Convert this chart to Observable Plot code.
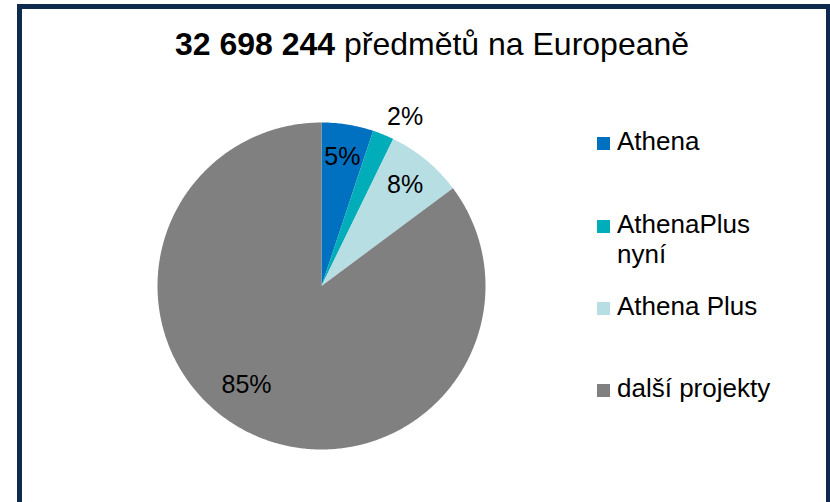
<!DOCTYPE html>
<html>
<head>
<meta charset="utf-8">
<script src="https://cdn.jsdelivr.net/npm/d3@7"></script>
<script src="https://cdn.jsdelivr.net/npm/@observablehq/plot@0.6"></script>
<style>
  html, body { margin: 0; padding: 0; background: #fff; overflow: hidden; }
  body { width: 830px; height: 502px; position: relative; font-family: "Liberation Sans", Arial, sans-serif; }
  #frame { position: absolute; left: 17px; top: 4px; width: 814px; height: 520px; box-sizing: border-box;
           border: 5px solid #0E2A4C; background: #fff; }
  #title { position: absolute; left: 432px; top: 28px; transform: translateX(-50%); white-space: nowrap;
           font-size: 32px; line-height: 32px; color: #000; }
  #chart { position: absolute; left: 0; top: 0; }
  .leg { position: absolute; left: 617px; font-size: 26px; line-height: 30px; color: #000; }
  .sw { position: absolute; left: -20px; top: 11px; width: 13px; height: 13px; }
</style>
</head>
<body>
<div id="frame"></div>
<div id="title"><b>32 698 244</b> předmětů na Europeaně</div>
<div id="chart"></div>
<script>
// ---- data ----
const categories = ["Athena", "AthenaPlus nyní", "Athena Plus", "další projekty"];
const shares = [5.1, 2.1, 7.6, 85.2];            // percent of the total
const colors = ["#0070C0", "#00ADB8", "#B7DEE3", "#808080"];
const legendLines = [["Athena"], ["AthenaPlus", "nyní"], ["Athena Plus"], ["další projekty"]];

// ---- build slices ----
const total = d3.sum(shares);
const pie = d3.pie().sort(null).value(d => d)(shares);
const slicePts = [];
pie.forEach((p, i) => {
  const name = categories[i];
  slicePts.push({name, x: 0, y: 0});
  const n = Math.max(2, Math.ceil((p.endAngle - p.startAngle) / 0.01));
  for (let k = 0; k <= n; k++) {
    const a = p.startAngle + (p.endAngle - p.startAngle) * k / n;
    slicePts.push({name, x: Math.sin(a), y: Math.cos(a)});
  }
  slicePts.push({name, x: 0, y: 0});
});
const labels = pie.map((p, i) => {
  const share = shares[i] / total;
  const outside = share < 0.03;
  const big = share > 0.5;
  // large slice label sits a bit further round (best-fit placement)
  const a = (p.startAngle + p.endAngle) / 2 + (big ? 0.18 : 0);
  const r = outside ? 1.06 : (big ? 0.76 : 0.8);
  return {
    text: d3.format(".0%")(share),
    x: r * Math.sin(a), y: r * Math.cos(a), outside
  };
});

const chart = Plot.plot({
  width: 830, height: 502,
  marginLeft: 157, marginRight: 345, marginTop: 122, marginBottom: 53,
  x: {domain: [-1, 1], axis: null},
  y: {domain: [-1, 1], axis: null},
  color: {domain: categories, range: colors},
  style: {background: "transparent", fontFamily: "Liberation Sans, Arial, sans-serif"},
  marks: [
    Plot.line(slicePts, {x: "x", y: "y", z: "name", fill: "name", stroke: "none", curve: "linear"}),
    Plot.text(labels.filter(d => !d.outside), {x: "x", y: "y", text: "text", fontSize: 25, fill: "#000"}),
    Plot.text(labels.filter(d => d.outside), {x: "x", y: "y", text: "text", fontSize: 25, fill: "#000",
      textAnchor: "start", lineAnchor: "bottom"})
  ]
});
document.getElementById("chart").appendChild(chart);

// ---- legend ----
const legTops = [126, 209, 291, 373];
categories.forEach((c, i) => {
  const div = document.createElement("div");
  div.className = "leg";
  div.style.top = legTops[i] + "px";
  const sw = document.createElement("div");
  sw.className = "sw";
  sw.style.background = colors[i];
  div.appendChild(sw);
  legendLines[i].forEach((t, j) => {
    if (j > 0) div.appendChild(document.createElement("br"));
    div.appendChild(document.createTextNode(t));
  });
  document.body.appendChild(div);
});
</script>
</body>
</html>
